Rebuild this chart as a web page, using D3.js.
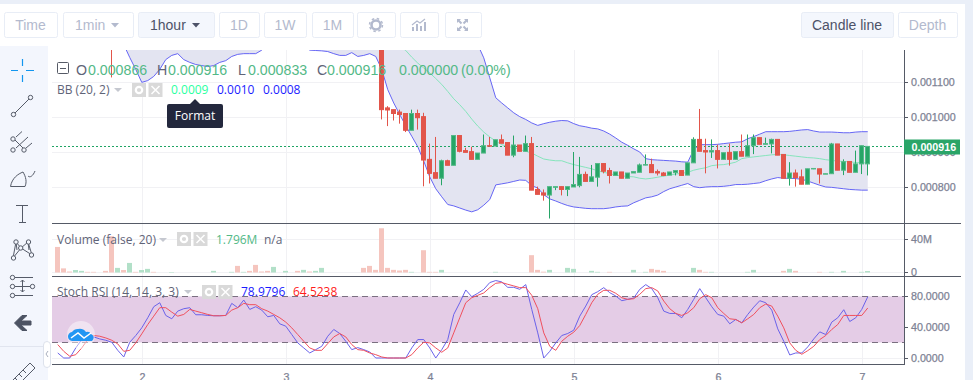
<!DOCTYPE html>
<html>
<head>
<meta charset="utf-8">
<script src="https://cdn.jsdelivr.net/npm/d3@7"></script>
<style>
html, body { margin: 0; padding: 0; background: #fff; overflow: hidden; }
text { font-family: "Liberation Sans", Arial, sans-serif; }
.legend { font-family: "Open Sans", sans-serif; font-size: 12px; }
.axis text { font-size: 10.7px; fill: #7d8294; stroke: #7d8294; stroke-width: 0.25px; }
.axis path, .axis line { stroke: #555a66; }
.grid path { display: none; }
.grid line { stroke: #f1f1f4; }
</style>
</head>
<body>
<div id="svg-container"></div>
<script>
// prices are in millionths, i.e. 916 = 0.000916
// bars are hourly, bar 0 is the first one on screen
var firstDay = 1.415;
var dayTicks = [2, 3, 4, 5, 6, 7];
var priceTicks = [800, 900, 1000, 1100];
var volumeTicks = [0, 40];
var stochTicks = [0, 40, 80];
var lastPrice = 916;

// [bar, open, high, low, close]
var candles = [
	[9, 1300, 1300, 1113, 1250],
	[54, 1320, 1320, 993, 1021], [55, 1026, 1031, 974, 1020], [56, 1021, 1021, 990, 1010], [57, 1014, 1021, 981, 1007],
	[58, 1010, 1010, 957, 962], [59, 962, 1021, 962, 1010], [60, 1010, 1021, 964, 998], [61, 1001, 1012, 802, 877],
	[62, 879, 924, 810, 839], [63, 841, 943, 825, 825], [64, 825, 878, 805, 875], [65, 875, 878, 862, 862],
	[66, 862, 947, 862, 947], [67, 947, 947, 899, 902], [68, 904, 912, 899, 899], [69, 901, 915, 879, 879],
	[70, 879, 897, 879, 897], [71, 897, 950, 897, 918], [72, 918, 943, 916, 917], [73, 917, 935, 917, 935],
	[74, 935, 950, 925, 925], [75, 927, 927, 891, 891], [76, 891, 947, 885, 920], [77, 920, 920, 902, 902],
	[78, 902, 947, 902, 924], [79, 924, 943, 791, 791], [80, 793, 801, 779, 779], [81, 783, 793, 761, 777],
	[82, 777, 801, 710, 801], [83, 799, 801, 791, 801], [84, 801, 801, 776, 793], [85, 793, 801, 774, 801],
	[86, 800, 900, 800, 807], [87, 804, 886, 799, 836], [88, 836, 844, 816, 816], [89, 816, 863, 816, 829],
	[90, 828, 867, 801, 867], [91, 867, 867, 839, 845], [92, 847, 855, 810, 833], [93, 833, 843, 833, 843],
	[94, 843, 843, 825, 825], [95, 825, 840, 825, 840], [96, 840, 844, 840, 844], [97, 842, 867, 842, 863],
	[98, 863, 893, 862, 864], [99, 864, 881, 841, 841], [100, 844, 850, 833, 840], [101, 840, 843, 831, 833],
	[102, 834, 843, 834, 843], [103, 841, 847, 833, 847], [104, 847, 847, 833, 833], [105, 834, 869, 834, 869],
	[106, 869, 942, 869, 936], [107, 936, 1023, 902, 902], [108, 904, 938, 839, 900], [109, 900, 936, 883, 904],
	[110, 904, 921, 853, 879], [111, 879, 898, 879, 898], [112, 899, 924, 861, 879], [113, 879, 901, 879, 901],
	[114, 901, 950, 888, 888], [115, 888, 950, 888, 918], [116, 918, 950, 894, 941], [117, 941, 941, 922, 922],
	[118, 922, 941, 922, 924], [119, 923, 938, 896, 936], [120, 936, 936, 891, 891], [121, 893, 893, 825, 825],
	[122, 825, 871, 804, 840], [123, 840, 850, 801, 827], [124, 829, 850, 808, 808], [125, 808, 852, 808, 852],
	[126, 852, 853, 851, 853], [127, 852, 852, 810, 837], [128, 837, 838, 837, 838], [129, 838, 926, 838, 923],
	[130, 923, 923, 848, 848], [131, 848, 879, 834, 872], [132, 873, 873, 842, 842], [133, 842, 904, 842, 866],
	[134, 866, 918, 837, 918], [135, 866, 916, 833, 916]
];

var bbLowerStart = 11;
var bbLower = [
	1207, 1170, 1136, 1099, 1104, 1116, 1136, 1164, 1176, 1181, 1164, 1156, 1150, 1147, 1144, 1147, 1156, 1161, 1173,
	1179, 1181, 1181, 1181, 1191, 1207, 1215, 1225, 1230, 1230, 1220, 1205, 1191, 1190, 1189, 1187, 1181, 1176, 1176,
	1184, 1173, 1176, 1181, 1173, 1136, 1078, 1040, 1007, 975, 945, 915, 874, 829, 795, 772, 750, 746, 740, 734, 729,
	735, 748, 764, 806, 809, 812, 816, 820, 819, 804, 797, 778, 766, 760, 753, 747, 743, 741, 739, 738, 738, 738, 740,
	743, 745, 746, 755, 762, 769, 772, 777, 787, 795, 800, 805, 810, 801, 798, 800, 801, 801, 802, 804, 807, 807, 808,
	810, 812, 818, 823, 827, 825, 825, 824, 822, 817, 811, 805, 800, 799, 797, 795, 793, 792, 791, 791
];
var bbUpperStart = 70;
var bbUpper = [
	1207, 1169, 1112, 1055, 1040, 1026, 1012, 1001, 993, 983, 976, 981, 985, 988, 990, 989, 981, 975, 972, 968, 966, 960,
	951, 940, 928, 919, 909, 900, 881, 878, 877, 876, 875, 874, 872, 871, 907, 921, 921, 921, 922, 924, 926, 928, 929,
	938, 944, 951, 958, 958, 958, 958, 959, 961, 963, 964, 960, 957, 957, 957, 956, 955, 955, 957, 958, 958
];
var bbMiddleStart = 57;
var bbMiddle = [
	1202, 1190, 1171, 1154, 1140, 1126, 1110, 1093, 1073, 1052, 1035, 1016, 994, 974, 957, 943, 931, 921, 916, 912, 907,
	902, 897, 888, 880, 877, 875, 875, 869, 864, 860, 856, 852, 846, 842, 838, 834, 832, 830, 829, 825, 823, 825, 828,
	831, 834, 837, 839, 842, 848, 852, 855, 861, 863, 864, 867, 871, 881, 884, 886, 888, 890, 892, 893, 892, 890, 888,
	886, 884, 883, 881, 878, 876, 874, 873, 872, 870, 869, 869
];

// in millions
var volumes = [
	31, 5, 1.2, 3, 2, 0.8, 0.8, 0, 2, 44,
	5.6, 3, 11.6, 0.8, 3, 4.4, 0.8, 0, 0, 0.6,
	0, 0, 0, 0, 0, 0, 2, 0, 0, 0.8,
	8, 0.8, 2, 9.2, 1.2, 2, 6.8, 0, 2, 0,
	2, 3.2, 1.2, 2, 5.6, 0, 0, 0, 0, 0,
	0, 5.6, 8, 3.2, 53.6, 5.6, 3.2, 2.4, 3.2, 0.8,
	0, 27, 0.8, 0.8, 3.2, 0, 0, 0, 0, 0,
	0, 0, 0, 0.8, 0, 0, 0, 0, 0, 21,
	3.2, 1, 3.2, 0, 0, 5.6, 4.4, 0, 0, 2,
	0.8, 0, 0.8, 0, 0, 0, 3.2, 0, 0.8, 4.4,
	3.2, 2, 0, 0, 0, 0, 5.6, 3.2, 0.8, 0.8,
	0, 0, 0, 0, 0, 0.8, 3.2, 0, 0, 0,
	0, 2, 4.4, 2, 0, 0, 0, 0.8, 0, 0.8,
	0, 2, 0, 0, 0.8, 1.796
];
// bars whose volume is drawn green
var volumeUp = [3, 4, 10, 12, 14, 15, 19, 26, 29, 31, 36, 38, 41, 43, 44, 59, 64, 73, 82, 85, 86, 89, 90, 96, 98, 106, 109, 115, 116, 122, 129, 131, 134, 135];

var stochK = [
	6.5, 0, 0, 13, 23.8, 30.3, 27.2, 24.6, 22.9, 20.3, 9.9, 1.3, 20.3, 29, 38.9, 51.9, 66.2, 71.3, 54.9, 50.6, 60.5, 63.6,
	64.9, 55.8, 55.8, 54.9, 54.5, 54.5, 54.9, 70.5, 64.9, 74.8, 62.7, 66.2, 61.8, 53.2, 54.9, 44.1, 41.1, 30.3, 19.5, 13,
	6.5, 10.8, 15.1, 28.1, 36.8, 31.6, 21.6, 10.8, 13.4, 10.8, 7.8, 0, 0, 0, 0, 0, 0, 13, 23.8, 23.8, 13, 0, 10.8, 23.8,
	56.2, 71.3, 87.8, 79.1, 83.5, 88.6, 97.3, 99.9, 98.2, 91.2, 91.2, 88.6, 94.7, 62.7, 32.4, 0, 8.6, 19.5, 29, 31.6, 35.9,
	54, 67, 81.7, 85.6, 90.8, 84.3, 80, 73.9, 75.7, 77.4, 88.6, 94.7, 89.5, 77.8, 60.5, 57.5, 57.5, 51.9, 62.7, 75.7, 89.5,
	77.8, 66.2, 56.2, 54, 44.1, 49.7, 45.4, 56.2, 65.7, 73.9, 71.3, 61.8, 37.6, 21.6, 3.9, 6.5, 6.5, 14.3, 24.6, 33.7, 30.3,
	46.3, 51.9, 62.3, 47.1, 51.9, 62.7, 78.98
];
var stochD = [
	17.3, 8.6, 2.2, 4.3, 13, 23.8, 29, 28.1, 25.9, 22.9, 18.2, 8.6, 9.9, 19.5, 31.1, 43.2, 54, 64.9, 64.9, 59.2, 54, 56.2,
	62.7, 60.5, 58.4, 56.2, 54.5, 54.5, 54.9, 61.8, 64.9, 70.5, 68.8, 68.8, 63.6, 60.5, 56.2, 51.9, 46.3, 38.9, 30.3, 21.6,
	13, 9.9, 9.9, 18.6, 27.2, 31.6, 27.2, 17.3, 10.8, 9.9, 6.5, 4.3, 1.3, 0, 0, 0, 0, 4.3, 13, 20.3, 19.5, 13, 7.4, 13, 32.4,
	51.9, 71.3, 77.8, 80.9, 83.9, 90.8, 96.4, 97.3, 95.1, 93, 90.8, 90.8, 80.9, 63.6, 32.4, 15.1, 9.9, 21.6, 28.1, 33.3,
	41.9, 56.2, 71.3, 82.2, 87.3, 87.3, 83.5, 77.8, 75.7, 76.5, 82.2, 89.5, 90.8, 86.5, 73.5, 63.6, 57.5, 54.9, 58.4, 64.9,
	76.5, 81.7, 77.8, 64.9, 57.5, 50.6, 49.7, 45.4, 50.6, 56.2, 64.9, 69.6, 67, 54, 38.9, 19.5, 9.9, 4.8, 9.5, 15.1, 23.8, 29,
	36.8, 43.2, 54.9, 54.9, 54.9, 54.9, 64.52
];
var stochBand = [20, 80];

var toolButtons = [
	["Time", 4, 53, false, false], ["1min", 63, 70, false, true], ["1hour", 138, 76, true, true],
	["1D", 219, 40, false, false], ["1W", 264, 42, false, false], ["1M", 312, 41, false, false],
	["", 357, 38, false, false], ["", 400, 38, false, false], ["", 445, 36, false, false],
	["Candle line", 801, 92, true, false], ["Depth", 898, 59, false, false]
];

var UP = "#27a567", UP_EDGE = "#53b987", DOWN = "#e2554a";
var chartLeft = 52, chartRight = 904, chartTop = 50;

var svg = d3.select("#svg-container").append("svg").attr("width", 973).attr("height", 380).style("display", "block");

// page furniture
svg.append("rect").attr("width", 973).attr("height", 380).attr("fill", "#fff");
svg.append("rect").attr("width", 973).attr("height", 4).attr("fill", "#eaeff8");
svg.append("rect").attr("x", 965).attr("width", 8).attr("height", 380).attr("fill", "#eaeff8");
svg.append("rect").attr("y", 46).attr("width", 48).attr("height", 334).attr("fill", "#f3f6fd");
svg.append("line").attr("x1", 0).attr("x2", 48).attr("y1", 346.5).attr("y2", 346.5).attr("stroke", "#e1e5ef");

function drawButtons() {
	var b = svg.append("g").selectAll("g").data(toolButtons).enter().append("g");
	b.append("rect")
		.attr("x", function(d){ return d[1] + 0.5 })
		.attr("y", 12.5)
		.attr("width", function(d){ return d[2] })
		.attr("height", 25)
		.attr("rx", 2)
		.attr("fill", function(d){ return d[3] ? "#f4f7fd" : "#fff" })
		.attr("stroke", "#e8edf6");
	b.append("text")
		.text(function(d){ return d[0] })
		.attr("x", function(d){ return d[4] ? d[1] + 12 : d[1] + d[2] / 2 })
		.attr("text-anchor", function(d){ return d[4] ? "start" : "middle" })
		.attr("y", 30)
		.style("font-size", "14px")
		.style("fill", function(d){ return d[3] ? "#4d5268" : "#b3bace" });
	// dropdown carets
	b.filter(function(d){ return d[4] }).append("path")
		.attr("d", function(d){ var x = d[1] + d[2] - 22; return "M" + x + " 23h8l-4 4.5z" })
		.attr("fill", function(d){ return d[3] ? "#4d5268" : "#b3bace" });
	// gear, chart, expand
	var g = svg.append("g").attr("fill", "#b3bace").attr("stroke", "#b3bace");
	g.append("circle").attr("cx", 376).attr("cy", 25).attr("r", 4.5).attr("fill", "none").attr("stroke-width", 2.6);
	g.append("circle").attr("cx", 376).attr("cy", 25).attr("r", 6.5).attr("fill", "none").attr("stroke-width", 1.5).attr("stroke-dasharray", "2.5 2.6");
	[[412, 4], [416, 7], [420, 5], [424, 9]].forEach(function(d){
		g.append("rect").attr("x", d[0]).attr("y", 31 - d[1]).attr("width", 2).attr("height", d[1]).attr("stroke", "none");
	});
	g.append("path").attr("d", "M412 25l5-4 3 2 5-4").attr("fill", "none").attr("stroke-width", 1.2);
	g.append("path").attr("stroke", "none")
		.attr("d", "M457 19h4l-4 4zM468 19h-4l4 4zM457 31h4l-4-4zM468 31h-4l4-4z");
	g.append("path").attr("fill", "none").attr("stroke-width", 2)
		.attr("d", "M458 20l3.5 3.5M467 20l-3.5 3.5M458 30l3.5-3.5M467 30l-3.5-3.5");
}
drawButtons();

function drawToolIcons() {
	var g = svg.append("g").attr("fill", "none").attr("stroke", "#555b68").attr("stroke-width", 1);
	function dot(x, y) { g.append("circle").attr("cx", x).attr("cy", y).attr("r", 2.2).attr("fill", "#f3f6fd"); }
	g.append("path").attr("stroke", "#1296ef").attr("stroke-width", 1.2)
		.attr("d", "M11 70.5h7M26 70.5h8M22.5 59v7M22.5 75v7");
	g.append("path").attr("d", "M15 113L29 99"); dot(13.5, 114.5); dot(30.5, 97.5);
	g.append("path").attr("d", "M16 137L22 131.5M16 148L28 137M26 148L32 143M15 140L23 148");
	dot(13, 139); dot(13, 150); dot(24, 150);
	g.append("path").attr("d", "M10.5 186.5C12 178 18 174 23 172C26 177 27 182 25 186.5ZM28 176C30 178 33 176 35 171");
	g.append("path").attr("d", "M16 205.5H28M22.5 205.5V222.5M19 222.5H26");
	g.append("path").attr("d", "M13 258L16 242L21 248L28 242L32 255L21 248L13 258M28 242L29 250M16 242L17 250");
	dot(13.5, 258); dot(16, 242); dot(28.5, 242); dot(31.5, 255); dot(20.7, 248);
	g.append("path").attr("d", "M14 277.5H33M14 295.5H33M14 286.5H31M22.5 280V292M20.5 282l2 -2 2 2M20.5 290l2 2 2 -2");
	dot(12.5, 277.5); dot(12.5, 286.5); dot(12.5, 295.5); dot(32.5, 286.5);
	g.append("path").attr("d", "M14.5 323L22 315.5H27L21 321H31V325H21L27 330.5H22Z").attr("fill", "#4c5363").attr("stroke", "#4c5363");
	g.append("path").attr("d", "M11 382L30 363L35 368L16 387ZM15 378L18 381M19 374L22 377M23 370L26 373");
	// collapse handle
	svg.append("rect").attr("x", 43.5).attr("y", 341.5).attr("width", 7).attr("height", 26).attr("rx", 3.5).attr("fill", "#fff").attr("stroke", "#dde2ec");
	svg.append("path").attr("d", "M48 351l-2 3 2 3").attr("fill", "none").attr("stroke", "#a9afbe");
}
drawToolIcons();

var xDay = d3.scaleLinear().domain([1.375, 7.2917]).range([chartLeft, chartRight]);
var yPrice = d3.scaleLinear().domain([800, 1100]).range([187, 82]);
var yVolume = d3.scaleLinear().domain([0, 40]).range([272, 239]);
var yStoch = d3.scaleLinear().domain([0, 80]).range([358, 296]);

function barX(i) { return xDay(firstDay + i / 24) }
function crisp(v) { return Math.floor(v) + 0.5 }

function createGridlines(scale, ticks) {
	return svg.append("g").attr("class", "grid").attr("transform", "translate(" + chartLeft + ",0)")
		.call(d3.axisRight(scale).tickValues(ticks).tickSize(chartRight - chartLeft).tickFormat(""));
}
createGridlines(yPrice, priceTicks);
createGridlines(yVolume, volumeTicks);
createGridlines(yStoch, stochTicks);
svg.append("g").attr("class", "grid").attr("transform", "translate(0," + chartTop + ")")
	.call(d3.axisBottom(xDay).tickValues(dayTicks).tickSize(364 - chartTop).tickFormat(""));

// main pane
svg.append("clipPath").attr("id", "main-clip").append("rect")
	.attr("x", chartLeft).attr("y", chartTop).attr("width", chartRight - chartLeft).attr("height", 223 - chartTop);
var main = svg.append("g").attr("clip-path", "url(#main-clip)");

var lowerByBar = bbLower.map(function(v, n){ return { i: n + bbLowerStart, v: v } });
function upperAt(i) { return i < bbUpperStart ? 1300 : bbUpper[i - bbUpperStart] }

main.append("path").datum(lowerByBar)
	.attr("fill", "#e3e4f1")
	.attr("d", d3.area()
		.x(function(d){ return barX(d.i) })
		.y0(function(d){ return yPrice(d.v) })
		.y1(function(d){ return yPrice(upperAt(d.i)) }));

function drawTrack(parent, values, start, scale, color, width) {
	return parent.append("path").datum(values)
		.attr("fill", "none")
		.attr("stroke", color)
		.attr("stroke-width", width)
		.attr("d", d3.line()
			.x(function(d, n){ return barX(n + start) })
			.y(function(d){ return scale(d) }));
}
drawTrack(main, bbLower, bbLowerStart, yPrice, "#6666f5", 1);
drawTrack(main, bbUpper, bbUpperStart, yPrice, "#6666f5", 1);
drawTrack(main, bbMiddle, bbMiddleStart, yPrice, "#86e4bc", 1);

// last price line goes under the candles
main.append("line")
	.attr("x1", chartLeft).attr("x2", chartRight)
	.attr("y1", crisp(yPrice(lastPrice))).attr("y2", crisp(yPrice(lastPrice)))
	.attr("stroke", "#1fa464").attr("stroke-dasharray", "2 2");

var candle = main.selectAll("g.candle").data(candles).enter().append("g")
	.attr("class", "candle")
	.each(function(d){
		var up = d[4] >= d[1];
		var x = crisp(barX(d[0]));
		var g = d3.select(this);
		g.append("line").attr("x1", x).attr("x2", x)
			.attr("y1", yPrice(d[2])).attr("y2", yPrice(d[3]))
			.attr("stroke", up ? UP : DOWN);
		var top = yPrice(Math.max(d[1], d[4])), bottom = yPrice(Math.min(d[1], d[4]));
		g.append("rect").attr("x", x - 2).attr("width", 4)
			.attr("y", top).attr("height", Math.max(bottom - top, 0.5))
			.attr("fill", up ? UP : DOWN)
			.attr("stroke", up ? UP_EDGE : DOWN);
	});

// volume pane
svg.append("g").selectAll("rect").data(volumes).enter().append("rect")
	.attr("x", function(d, i){ return crisp(barX(i)) - 2.5 })
	.attr("width", 5)
	.attr("y", function(d){ return yVolume(d) + 0.5 })
	.attr("height", function(d){ return yVolume(0) - yVolume(d) })
	.attr("fill", function(d, i){ return volumeUp.indexOf(i) >= 0 ? "#b2e0c8" : "#f5c5be" });

// stoch pane
svg.append("rect")
	.attr("x", chartLeft).attr("width", chartRight - chartLeft)
	.attr("y", crisp(yStoch(stochBand[1])))
	.attr("height", crisp(yStoch(stochBand[0])) - crisp(yStoch(stochBand[1])))
	.attr("fill", "#e4cce6");
svg.append("g").selectAll("line").data(stochBand).enter().append("line")
	.attr("x1", chartLeft).attr("x2", chartRight)
	.attr("y1", function(d){ return crisp(yStoch(d)) }).attr("y2", function(d){ return crisp(yStoch(d)) })
	.attr("stroke", "#7a6f80").attr("stroke-dasharray", "6 4");
drawTrack(svg, stochK, 0, yStoch, "#6a62ea", 1);
drawTrack(svg, stochD, 0, yStoch, "#f0505e", 1);

// pane separators
[223.5, 276.5].forEach(function(y){
	svg.append("line").attr("x1", chartLeft).attr("x2", 961).attr("y1", y).attr("y2", y).attr("stroke", "#555a66");
});

// axes
function rightAxis(scale, ticks, top, bottom, fmt) {
	var g = svg.append("g").attr("class", "axis").attr("transform", "translate(" + chartRight + ",0)")
		.call(d3.axisRight(scale).tickValues(ticks).tickSize(4).tickPadding(3).tickFormat(fmt));
	g.select(".domain").remove();
	g.append("line").attr("x1", 0.5).attr("x2", 0.5).attr("y1", top).attr("y2", bottom);
}
rightAxis(yPrice, priceTicks, chartTop, 223.5, function(d){ return (d / 1e6).toFixed(6) });
rightAxis(yVolume, volumeTicks, 223.5, 276.5, function(d){ return d ? d + "M" : "0" });
rightAxis(yStoch, stochTicks, 276.5, 364.5, function(d){ return d.toFixed(4) });

var xAxis = svg.append("g").attr("class", "axis").attr("transform", "translate(0,364)")
	.call(d3.axisBottom(xDay).tickValues(dayTicks).tickSize(0).tickPadding(9).tickFormat(d3.format("d")));
xAxis.select(".domain").remove();
xAxis.append("line").attr("x1", chartLeft).attr("x2", chartRight + 1).attr("y1", 0.5).attr("y2", 0.5);

// last price flag
var flagY = crisp(yPrice(lastPrice));
svg.append("rect").attr("x", 904).attr("y", flagY - 7).attr("width", 56).attr("height", 15).attr("fill", "#2aa568");
svg.append("text").text((lastPrice / 1e6).toFixed(6)).attr("x", 911.5).attr("y", flagY + 4)
	.style("font-size", "10.7px").style("font-weight", "bold").style("fill", "#fff");

// header readout
function writeText(x, y, str, color, cls, size) {
	return svg.append("text").attr("x", x).attr("y", y).attr("class", cls || null).text(str)
		.style("font-size", size || null).style("fill", color);
}
var GREY = "#5f6478", GREEN = "#53b987";
svg.append("rect").attr("x", 57.5).attr("y", 62.5).attr("width", 11).attr("height", 11).attr("rx", 1).attr("fill", "#fff").attr("stroke", "#555a66");
svg.append("line").attr("x1", 60).attr("x2", 66).attr("y1", 68.5).attr("y2", 68.5).attr("stroke", "#555a66");
[["O", 76, GREY], ["0.000866", 88, GREEN], ["H", 157, GREY], ["0.000916", 168, GREEN], ["L", 238, GREY], ["0.000833", 248, GREEN],
 ["C", 317, GREY], ["0.000916", 327, GREEN], ["0.000000", 399, GREEN], ["(0.00%)", 461, GREEN]].forEach(function(d){
	writeText(d[1], 75, d[0], d[2], null, "14.2px");
});

function legendBoxes(x, y) {
	[x, x + 16.5].forEach(function(bx, n){
		svg.append("rect").attr("x", bx).attr("y", y).attr("width", 14).attr("height", 14).attr("fill", "#d9d9d9");
		if (n === 0) {
			svg.append("circle").attr("cx", bx + 7).attr("cy", y + 7).attr("r", 3.2).attr("fill", "none").attr("stroke", "#fff").attr("stroke-width", 2.2);
		} else {
			svg.append("path").attr("d", "M" + (bx + 3) + " " + (y + 3) + "l8 8m0 -8l-8 8").attr("stroke", "#fff").attr("stroke-width", 1.5);
		}
	});
}
function caret(x, y) {
	svg.append("path").attr("d", "M" + x + " " + y + "h8l-4 4z").attr("fill", "#c5c8d0");
}

writeText(57, 94, "BB (20, 2)", GREY, "legend");
caret(114, 88); legendBoxes(132, 83);
writeText(171, 94, "0.0009", "#2bff9f", "legend");
writeText(217, 94, "0.0010", "#1c1cff", "legend");
writeText(263, 94, "0.0008", "#1c1cff", "legend");

writeText(57, 244, "Volume (false, 20)", GREY, "legend");
caret(159, 238); legendBoxes(177, 232);
writeText(216, 244, "1.796M", GREEN, "legend");
writeText(264, 244, "n/a", GREY, "legend");

writeText(57, 296, "Stoch RSI (14, 14, 3, 3)", GREY, "legend");
caret(184, 290); legendBoxes(202, 285);
writeText(241, 296, "78.9796", "#1c1cff", "legend");
writeText(293, 296, "64.5238", "#ff1c1c", "legend");

// Format tooltip
svg.append("path").attr("d", "M190 104l5 -5 5 5z").attr("fill", "#23283d");
svg.append("rect").attr("x", 167).attr("y", 104).attr("width", 56).attr("height", 24).attr("rx", 2).attr("fill", "#23283d");
svg.append("text").attr("x", 195).attr("y", 120).attr("text-anchor", "middle").text("Format")
	.style("font-family", "'Open Sans', sans-serif").style("font-size", "12px").style("fill", "#fff");

// logo
svg.append("circle").attr("cx", 81).attr("cy", 335).attr("r", 14).attr("fill", "#fff").attr("fill-opacity", 0.45);
svg.append("path").attr("fill", "#2196f3")
	.attr("d", "M73 341a4.5 4.5 0 0 1 -1 -9a7 7 0 0 1 6 -3a8 8 0 0 1 8 3a4 4 0 0 1 5 2a4 4 0 0 1 1 7Z");
svg.append("path").attr("fill", "none").attr("stroke", "#fff").attr("stroke-width", 1.5)
	.attr("d", "M71 338l7 -5 6 5 7 -5");
</script>
</body>
</html>
